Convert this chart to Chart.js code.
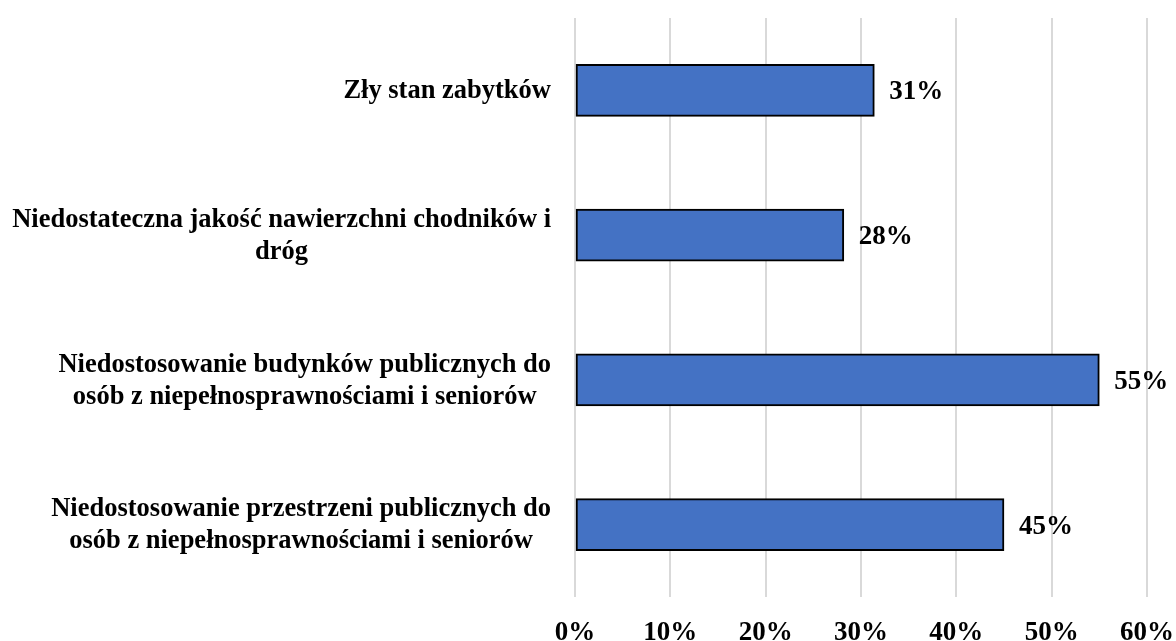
<!DOCTYPE html>
<html>
<head>
<meta charset="utf-8">
<script src="https://cdn.jsdelivr.net/npm/chart.js@4.4.1/dist/chart.umd.min.js"></script>
<style>
  html, body { margin: 0; padding: 0; background: #ffffff; }
  #wrap { width: 1176px; height: 641px; position: relative; }
</style>
</head>
<body>
<div id="wrap"><canvas id="c" width="1176" height="641"></canvas></div>
<script>
const categories = [
  ["Zły stan zabytków"],
  ["Niedostateczna jakość nawierzchni chodników i", "dróg"],
  ["Niedostosowanie budynków publicznych do", "osób z niepełnosprawnościami i seniorów"],
  ["Niedostosowanie przestrzeni publicznych do", "osób z niepełnosprawnościami i seniorów"]
];
const values = [31.4, 28.2, 55.0, 45.0];
const valueLabels = ["31%", "28%", "55%", "45%"];
const xTicks = [0, 10, 20, 30, 40, 50, 60];

const FONT = '"Liberation Serif", "Times New Roman", serif';

const yLabelPlugin = {
  id: 'yLabels',
  afterDraw(chart) {
    const ctx = chart.ctx;
    const ys = chart.scales.y;
    const right = chart.chartArea.left - 24;
    ctx.save();
    ctx.font = 'bold 26.5px ' + FONT;
    ctx.fillStyle = '#000';
    ctx.textAlign = 'center';
    ctx.textBaseline = 'middle';
    const lh = 32;
    categories.forEach((lines, i) => {
      const y = ys.getPixelForTick(i) + 1;
      const maxW = Math.max(...lines.map(l => ctx.measureText(l).width));
      const cx = right - maxW / 2;
      lines.forEach((l, j) => {
        ctx.fillText(l, cx, y + (j - (lines.length - 1) / 2) * lh);
      });
    });
    ctx.restore();
  }
};

const valueLabelPlugin = {
  id: 'valueLabels',
  afterDatasetsDraw(chart) {
    const ctx = chart.ctx;
    const meta = chart.getDatasetMeta(0);
    ctx.save();
    ctx.font = 'bold 27px ' + FONT;
    ctx.fillStyle = '#000';
    ctx.textAlign = 'left';
    ctx.textBaseline = 'middle';
    meta.data.forEach((el, i) => {
      ctx.fillText(valueLabels[i], el.x + 15, el.y + 2);
    });
    ctx.restore();
  }
};

new Chart(document.getElementById('c'), {
  type: 'bar',
  data: {
    labels: categories.map(c => c.join(' ')),
    datasets: [{
      data: values,
      backgroundColor: '#4472C4',
      borderColor: '#000000',
      borderWidth: 2,
      borderSkipped: false,
      barThickness: 52
    }]
  },
  options: {
    indexAxis: 'y',
    responsive: false,
    animation: false,
    devicePixelRatio: 1,
    layout: { padding: { top: 18, bottom: 0, left: 0, right: 0 } },
    plugins: { legend: { display: false }, tooltip: { enabled: false } },
    scales: {
      x: {
        min: 0,
        max: 60,
        afterBuildTicks(scale) { scale.ticks = xTicks.map(v => ({ value: v })); },
        afterFit(scale) { scale.height = 44; scale.paddingRight = 29; scale.paddingLeft = 0; },
        grid: { color: '#D9D9D9', lineWidth: 2, drawTicks: false },
        border: { display: false },
        ticks: {
          padding: 21,
          color: '#000',
          font: { family: FONT, size: 27, weight: 'bold', lineHeight: 1.15 },
          callback: v => v + '%'
        }
      },
      y: {
        grid: { display: false },
        border: { display: false },
        ticks: { display: false },
        afterFit(scale) { scale.width = 575; }
      }
    }
  },
  plugins: [yLabelPlugin, valueLabelPlugin]
});
</script>
</body>
</html>
